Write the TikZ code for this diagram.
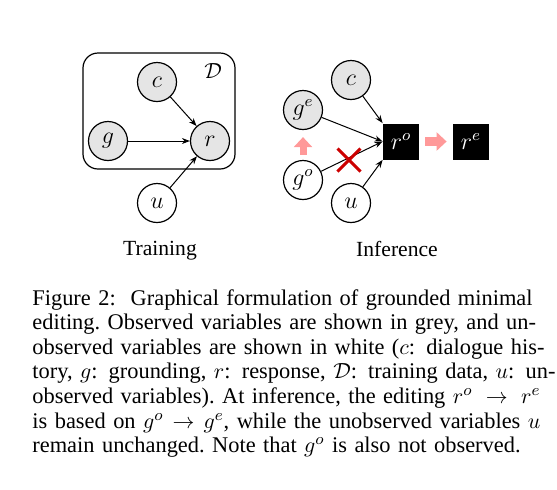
\documentclass[tikz,border=0pt]{standalone}
\usepackage{fontspec}
\setmainfont{Liberation Serif}
\usepackage{amssymb,amsfonts}
\usetikzlibrary{arrows.meta,shapes.misc}

\newcommand{\capline}[1]{\makebox[254pt][s]{#1}}

\begin{document}
\begin{tikzpicture}[x=0.5pt,y=-0.5pt,
    var/.style={circle,draw,line width=0.6pt,minimum size=19.5pt,inner sep=0pt,font=\fontsize{12}{14}\selectfont},
    obs/.style={var,fill=gray!20},
    resp/.style={rectangle,fill=black,text=white,minimum size=18pt,inner sep=0pt,font=\fontsize{12}{14}\selectfont},
    edge/.style={-{Stealth[length=4pt,width=3pt]},line width=0.5pt},
    edit/.style={draw=red!40,-{Triangle[length=5pt,width=9pt]}}]
    \useasboundingbox (0,0) rectangle (557,489);

    % training
    \draw[line width=0.6pt,rounded corners=7.5pt] (83,53) rectangle (235,169);
    \node[font=\fontsize{11}{13}\selectfont] (D) at (213,71) {$\mathcal{D}$};
    \node[obs] (c) at (157,82) {$c$};
    \node[obs] (g) at (108,141) {$g$};
    \node[obs] (r) at (210,141) {$r$};
    \node[var] (u) at (157,203) {$u$};
    \draw[edge] (c) -- (r);
    \draw[edge] (g) -- (r);
    \draw[edge] (u) -- (r);
    \node[anchor=base,font=\fontsize{10.8}{13}\selectfont] (train) at (160,255) {Training};

    % inference
    \node[obs] (ci) at (351,80) {$c$};
    \node[obs] (ge) at (303,110) {$g^e$};
    \node[var] (go) at (303,180) {$g^o$};
    \node[var] (ui) at (351,203) {$u$};
    \node[resp] (ro) at (401,141.5) {$r^o$};
    \node[resp] (re) at (471,141.5) {$r^e$};
    \draw[edge] (ci) -- (ro.north west);
    \draw[edge] (ge) -- (ro.west);
    \draw[edge] (go) -- (ro.west);
    \draw[edge] (ui) -- (ro.south west);
    \node[cross out,draw=red!80!black,line width=1.5pt,minimum size=10pt,inner sep=0pt] (cross) at (349,160) {};
    \draw[edit,line width=3.5pt,shorten <=2.5pt,shorten >=3.5pt] (go) -- (ge);
    \draw[edit,line width=4.5pt,shorten <=3pt,shorten >=3pt] (ro) -- (re);
    \node[anchor=base,font=\fontsize{10.8}{13}\selectfont] (infer) at (397,256) {Inference};

    % caption
    \node[anchor=base west,inner sep=0pt,text width=256pt,align=left,
          font=\fontsize{11.2}{12.3}\selectfont] (caption) at (32,305)
      {\capline{Figure 2:\ \ Graphical formulation of grounded minimal}\\
       \capline{editing.\ Observed variables are shown in grey, and un-}\\
       \capline{observed variables are shown in white ($c$: dialogue his-}\\
       \capline{tory, $g$: grounding, $r$: response, $\mathcal{D}$: training data, $u$: un-}\\
       \capline{observed variables).\ At inference, the editing $r^o \rightarrow r^e$}\\
       \capline{is based on $g^o \rightarrow g^e$, while the unobserved variables $u$}\\
       remain unchanged.\ Note that $g^o$ is also not observed.};
\end{tikzpicture}
\end{document}
